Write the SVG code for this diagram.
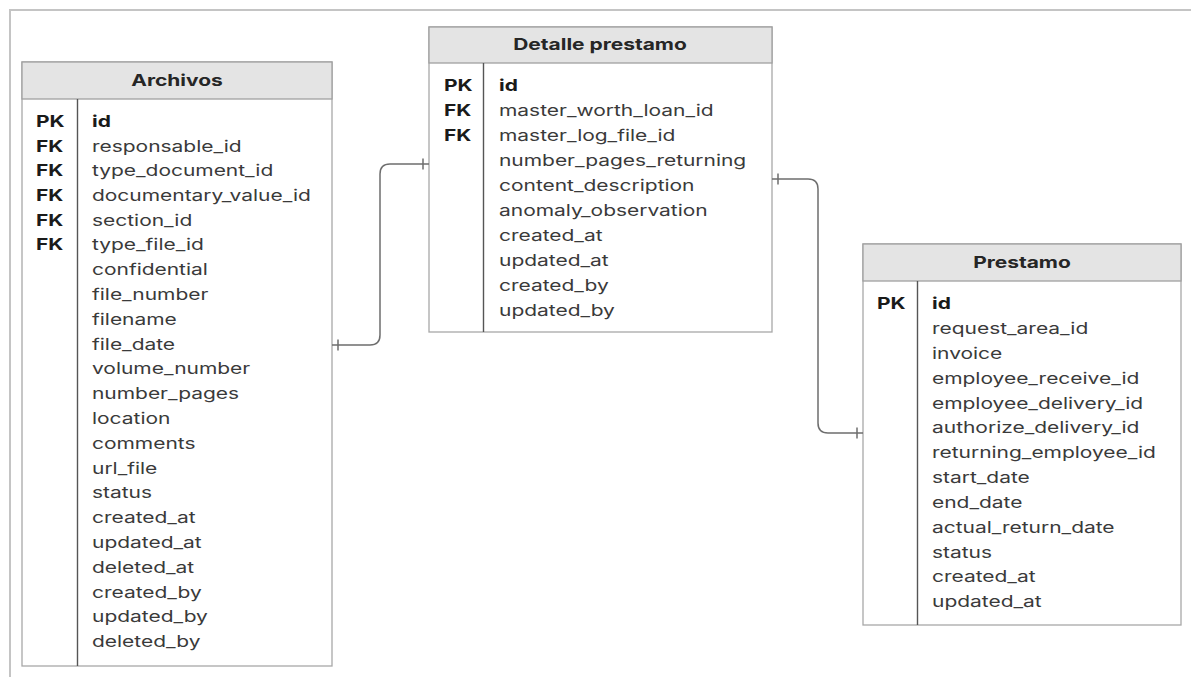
<svg xmlns="http://www.w3.org/2000/svg" width="1191" height="677" viewBox="0 0 1191 677">
<style>
.frame{fill:none;stroke:#c4c4c4;stroke-width:2}
.box{fill:#fff;stroke:#a8a8a8;stroke-width:1.3}
.hdr{fill:#e4e4e4;stroke:#a0a0a0;stroke-width:1.3}
.div{stroke:#555;stroke-width:1.4}
.title{font-family:Inter,"Liberation Sans",sans-serif;font-size:16px;font-weight:700;fill:#262626;text-anchor:middle}
.key{font-family:Inter,"Liberation Sans",sans-serif;font-size:16px;font-weight:700;fill:#1a1a1a}
.fld{font-family:Inter,"Liberation Sans",sans-serif;font-size:16px;fill:#3a3a3a}
.pk{font-weight:700;fill:#1a1a1a}
.conn{fill:none;stroke:#6e6e6e;stroke-width:1.5}
</style>
<rect width="1191" height="677" fill="#fff"/>
<path class="frame" d="M10,677 V10 H1191"/>

<g id="archivos">
<rect class="box" x="22" y="62" width="310" height="604"/>
<rect class="hdr" x="22" y="62" width="310" height="37"/>
<text class="title" transform="translate(177,0) scale(1.31,1)" x="0" y="86">Archivos</text>
<line class="div" x1="77.5" y1="99" x2="77.5" y2="666"/>
<g class="key" transform="translate(36,0) scale(1.31,1)">
<text x="0" y="127">PK</text>
<text x="0" y="152">FK</text>
<text x="0" y="176">FK</text>
<text x="0" y="201">FK</text>
<text x="0" y="226">FK</text>
<text x="0" y="250">FK</text>
</g>
<g class="fld" transform="translate(92,0) scale(1.31,1)">
<text x="0" y="127" class="pk">id</text>
<text x="0" y="152">responsable_id</text>
<text x="0" y="176">type_document_id</text>
<text x="0" y="201">documentary_value_id</text>
<text x="0" y="226">section_id</text>
<text x="0" y="250">type_file_id</text>
<text x="0" y="275">confidential</text>
<text x="0" y="300">file_number</text>
<text x="0" y="325">filename</text>
<text x="0" y="350">file_date</text>
<text x="0" y="374">volume_number</text>
<text x="0" y="399">number_pages</text>
<text x="0" y="424">location</text>
<text x="0" y="449">comments</text>
<text x="0" y="474">url_file</text>
<text x="0" y="498">status</text>
<text x="0" y="523">created_at</text>
<text x="0" y="548">updated_at</text>
<text x="0" y="573">deleted_at</text>
<text x="0" y="598">created_by</text>
<text x="0" y="622">updated_by</text>
<text x="0" y="647">deleted_by</text>
</g>
</g>

<g id="detalle_prestamo">
<rect class="box" x="429" y="27" width="343" height="305"/>
<rect class="hdr" x="429" y="27" width="343" height="36"/>
<text class="title" transform="translate(600,0) scale(1.31,1)" x="0" y="50">Detalle prestamo</text>
<line class="div" x1="483.5" y1="63" x2="483.5" y2="332"/>
<g class="key" transform="translate(444,0) scale(1.31,1)">
<text x="0" y="91">PK</text>
<text x="0" y="116">FK</text>
<text x="0" y="141">FK</text>
</g>
<g class="fld" transform="translate(499,0) scale(1.31,1)">
<text x="0" y="91" class="pk">id</text>
<text x="0" y="116">master_worth_loan_id</text>
<text x="0" y="141">master_log_file_id</text>
<text x="0" y="166">number_pages_returning</text>
<text x="0" y="191">content_description</text>
<text x="0" y="216">anomaly_observation</text>
<text x="0" y="241">created_at</text>
<text x="0" y="266">updated_at</text>
<text x="0" y="291">created_by</text>
<text x="0" y="316">updated_by</text>
</g>
</g>

<g id="prestamo">
<rect class="box" x="863" y="244" width="318" height="381"/>
<rect class="hdr" x="863" y="244" width="318" height="37"/>
<text class="title" transform="translate(1022,0) scale(1.31,1)" x="0" y="268">Prestamo</text>
<line class="div" x1="917.5" y1="281" x2="917.5" y2="625"/>
<g class="key" transform="translate(877,0) scale(1.31,1)">
<text x="0" y="309">PK</text>
</g>
<g class="fld" transform="translate(932,0) scale(1.31,1)">
<text x="0" y="309" class="pk">id</text>
<text x="0" y="334">request_area_id</text>
<text x="0" y="359">invoice</text>
<text x="0" y="384">employee_receive_id</text>
<text x="0" y="409">employee_delivery_id</text>
<text x="0" y="433">authorize_delivery_id</text>
<text x="0" y="458">returning_employee_id</text>
<text x="0" y="483">start_date</text>
<text x="0" y="508">end_date</text>
<text x="0" y="533">actual_return_date</text>
<text x="0" y="558">status</text>
<text x="0" y="582">created_at</text>
<text x="0" y="607">updated_at</text>
</g>
</g>

<g id="connectors">
<path class="conn" d="M332,345 H370 Q380,345 380,335 V174 Q380,164 390,164 H429"/>
<path class="conn" d="M338,339.5 V350.5 M423,158.5 V169.5"/>
<path class="conn" d="M772,179 H808 Q818,179 818,189 V423 Q818,433 828,433 H863"/>
<path class="conn" d="M778,173.5 V184.5 M857,427.5 V438.5"/>
</g>
</svg>
